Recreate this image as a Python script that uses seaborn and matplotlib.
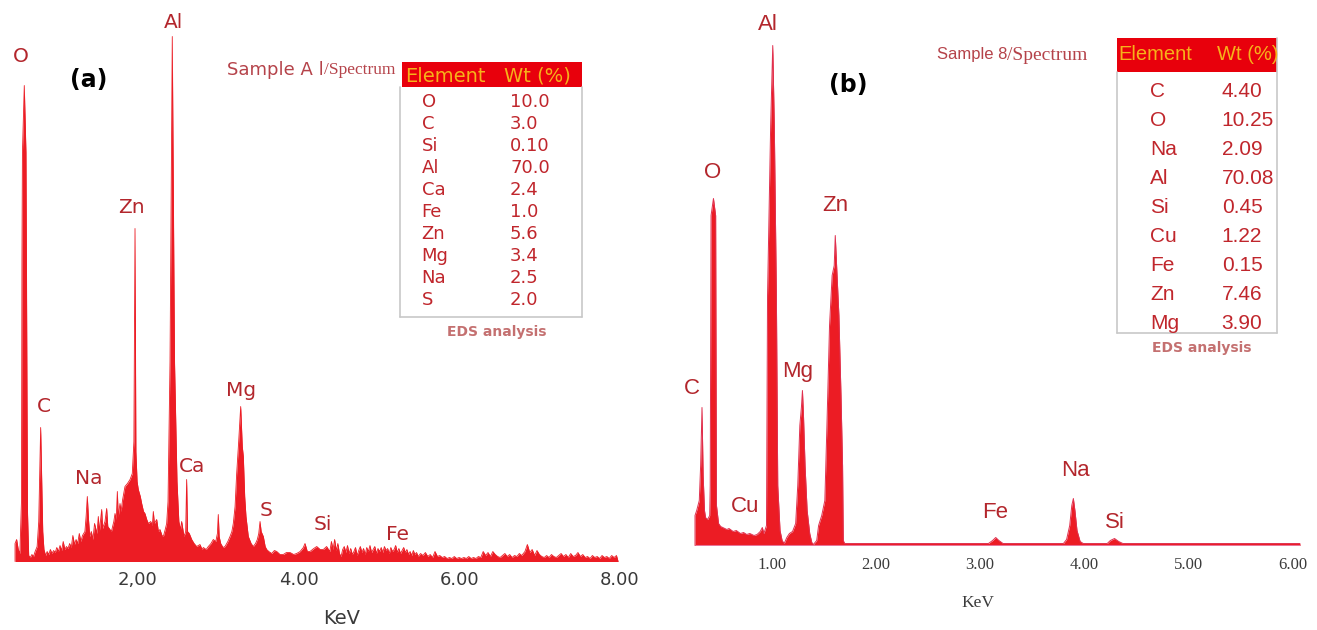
import matplotlib
matplotlib.use("Agg")
import matplotlib.pyplot as plt
import seaborn as sns
from matplotlib.patches import Rectangle
from matplotlib.lines import Line2D

# ---------------- data ----------------
# Panel (a): spectrum outline, (energy keV, intensity a.u.)
a_points = [
    (0.47, 0), (0.47, 18), (0.49, 22), (0.51, 12), (0.53, 8), (0.55, 60),
    (0.556, 300), (0.562, 409), (0.585, 476), (0.606, 409), (0.612, 300), (0.625, 50), (0.64, 6),
    (0.66, 4), (0.68, 7), (0.70, 5), (0.72, 10), (0.745, 15),
    (0.765, 40), (0.78, 100), (0.789, 134), (0.80, 90), (0.815, 30), (0.83, 12),
    (0.85, 6), (0.87, 10), (0.89, 7), (0.91, 12), (0.93, 8), (0.95, 11), (0.97, 9), (0.99, 14),
    (1.01, 10), (1.03, 16), (1.05, 11), (1.07, 20), (1.09, 12), (1.11, 15), (1.13, 13), (1.15, 18),
    (1.17, 14), (1.19, 26), (1.21, 17), (1.23, 22), (1.25, 18), (1.27, 28), (1.29, 20), (1.31, 26),
    (1.34, 30), (1.355, 45), (1.37, 65), (1.385, 42), (1.40, 25),
    (1.42, 30), (1.44, 22), (1.46, 38), (1.49, 28), (1.507, 45), (1.52, 30), (1.549, 52), (1.56, 33),
    (1.59, 40), (1.611, 53), (1.625, 35), (1.653, 32), (1.67, 30), (1.70, 40), (1.715, 48), (1.73, 42),
    (1.744, 70), (1.755, 45), (1.777, 58), (1.79, 50),
    (1.81, 62), (1.839, 75), (1.87, 78), (1.902, 82), (1.93, 88), (1.95, 120), (1.964, 333), (1.975, 110),
    (1.99, 80), (2.005, 72), (2.03, 65), (2.047, 58), (2.07, 50), (2.088, 48), (2.11, 42), (2.13, 38),
    (2.16, 40), (2.18, 36), (2.192, 50), (2.205, 38), (2.234, 42), (2.255, 30), (2.275, 32), (2.30, 26),
    (2.317, 25), (2.34, 32), (2.358, 38),
    (2.375, 60), (2.40, 200), (2.428, 525), (2.456, 200), (2.487, 80), (2.51, 40),
    (2.53, 32), (2.545, 40), (2.574, 25), (2.595, 30), (2.607, 82), (2.618, 30), (2.64, 28), (2.67, 22),
    (2.70, 18), (2.732, 15), (2.773, 17), (2.80, 12), (2.815, 14), (2.85, 12), (2.877, 15), (2.91, 18),
    (2.939, 22), (2.97, 20), (2.99, 28), (3.001, 47), (3.012, 25), (3.031, 18), (3.06, 14), (3.085, 15),
    (3.12, 20), (3.147, 25), (3.17, 30), (3.188, 38), (3.21, 55), (3.23, 88), (3.255, 120), (3.28, 155),
    (3.30, 115), (3.313, 105), (3.33, 65), (3.346, 45), (3.375, 25), (3.41, 18), (3.437, 15), (3.465, 18),
    (3.487, 22), (3.505, 28), (3.521, 40), (3.535, 30), (3.562, 25), (3.585, 15), (3.604, 12), (3.63, 10),
    (3.666, 8), (3.70, 11), (3.729, 10), (3.77, 7), (3.811, 7), (3.85, 9), (3.894, 9), (3.94, 7),
    (3.977, 8), (4.02, 10), (4.06, 14), (4.081, 18), (4.11, 10), (4.143, 10), (4.19, 13), (4.227, 15),
    (4.27, 12), (4.309, 12), (4.35, 15),
    (4.39, 10), (4.41, 20), (4.43, 12), (4.45, 22), (4.47, 11), (4.49, 18), (4.51, 8), (4.53, 5),
    (4.55, 12), (4.57, 15), (4.59, 9), (4.61, 16), (4.63, 8), (4.65, 13), (4.67, 7), (4.69, 10),
    (4.71, 14), (4.73, 6), (4.75, 11), (4.77, 15), (4.79, 9), (4.81, 13), (4.83, 7), (4.85, 14),
    (4.87, 10), (4.89, 16), (4.91, 9), (4.93, 12), (4.95, 15), (4.97, 8), (4.99, 13), (5.01, 10),
    (5.03, 14), (5.05, 9), (5.07, 15), (5.09, 11), (5.11, 13), (5.13, 8), (5.15, 14), (5.17, 10),
    (5.19, 12), (5.21, 16), (5.23, 9), (5.25, 13), (5.27, 8), (5.29, 11), (5.31, 14), (5.33, 9),
    (5.35, 12), (5.37, 7), (5.39, 10), (5.41, 6), (5.43, 11), (5.45, 7), (5.47, 9), (5.49, 5),
    (5.52, 8), (5.55, 6), (5.58, 9), (5.61, 5), (5.64, 7), (5.67, 4), (5.70, 10), (5.73, 5),
    (5.76, 6), (5.79, 4), (5.82, 5), (5.85, 3), (5.88, 4), (5.91, 3), (5.94, 5), (5.97, 3),
    (6.00, 4), (6.03, 3), (6.06, 4), (6.09, 3), (6.12, 5), (6.15, 3), (6.18, 4), (6.21, 3),
    (6.24, 5), (6.27, 4), (6.30, 10), (6.33, 6), (6.36, 9), (6.39, 5), (6.42, 10), (6.45, 7),
    (6.48, 5), (6.51, 4), (6.54, 6), (6.57, 8), (6.60, 5), (6.63, 7), (6.66, 4), (6.69, 6),
    (6.72, 5), (6.75, 8), (6.78, 6), (6.82, 10), (6.85, 17), (6.88, 9), (6.91, 12), (6.94, 6),
    (6.97, 11), (7.00, 7), (7.03, 5), (7.06, 4), (7.09, 6), (7.12, 4), (7.15, 7), (7.18, 5),
    (7.21, 4), (7.24, 6), (7.27, 8), (7.30, 5), (7.33, 7), (7.36, 4), (7.39, 8), (7.42, 5),
    (7.45, 6), (7.48, 9), (7.51, 5), (7.54, 7), (7.57, 4), (7.60, 5), (7.63, 3), (7.66, 6),
    (7.69, 4), (7.72, 5), (7.75, 3), (7.78, 6), (7.81, 4), (7.84, 5), (7.87, 3), (7.90, 6),
    (7.93, 4), (7.96, 6), (7.98, 0),
]
a_kev = [p[0] for p in a_points]
a_counts = [p[1] for p in a_points]

# Panel (b): spectrum outline, (energy keV, intensity a.u.)
b_points = [
    (0.264, 0), (0.264, 30), (0.28, 35), (0.305, 45), (0.318, 80), (0.331, 138), (0.342, 70),
    (0.355, 35), (0.365, 28), (0.385, 26), (0.405, 30),
    (0.41, 60), (0.418, 330), (0.441, 347), (0.462, 330), (0.47, 40),
    (0.49, 22), (0.51, 19), (0.53, 18), (0.55, 17), (0.57, 16), (0.59, 17), (0.63, 14), (0.66, 15),
    (0.70, 12), (0.73, 13), (0.76, 11), (0.79, 12), (0.83, 10), (0.86, 11), (0.89, 14), (0.91, 18),
    (0.925, 12), (0.95, 20),
    (0.96, 250), (0.99, 420), (1.01, 500), (1.025, 420), (1.045, 250), (1.058, 60), (1.08, 15),
    (1.10, 5), (1.12, 2),
    (1.145, 8), (1.17, 12), (1.20, 14), (1.23, 22), (1.25, 60), (1.27, 120), (1.285, 138), (1.295, 155),
    (1.305, 130), (1.32, 80), (1.34, 35), (1.365, 12), (1.385, 3), (1.40, 1),
    (1.432, 5), (1.45, 20), (1.48, 30), (1.51, 45), (1.53, 120), (1.555, 220), (1.58, 270), (1.60, 280),
    (1.61, 310), (1.625, 275), (1.645, 230), (1.665, 150), (1.68, 80), (1.687, 5), (1.70, 2),
    (3.08, 2), (3.12, 5), (3.15, 8), (3.18, 5), (3.22, 2),
    (3.80, 2), (3.83, 6), (3.86, 20), (3.88, 40), (3.895, 47), (3.91, 35), (3.93, 15), (3.96, 4), (3.99, 2),
    (4.22, 2), (4.25, 5), (4.29, 7), (4.33, 4), (4.37, 2),
    (6.07, 2),
]
b_kev = [p[0] for p in b_points]
b_counts = [p[1] for p in b_points]

a_tick_values = [2, 4, 6, 8]
a_tick_labels = ["2,00", "4.00", "6.00", "8.00"]
b_tick_values = [1, 2, 3, 4, 5, 6]
b_tick_labels = ["1.00", "2.00", "3.00", "4.00", "5.00", "6.00"]

a_peak_labels = ["O", "Al", "Zn", "C", "Na", "Ca", "Mg", "S", "Si", "Fe"]
b_peak_labels = ["Al", "O", "Zn", "Mg", "C", "Cu", "Fe", "Na", "Si"]

a_table_elements = ["O", "C", "Si", "Al", "Ca", "Fe", "Zn", "Mg", "Na", "S"]
a_table_wt = ["10.0", "3.0", "0.10", "70.0", "2.4", "1.0", "5.6", "3.4", "2.5", "2.0"]
b_table_elements = ["C", "O", "Na", "Al", "Si", "Cu", "Fe", "Zn", "Mg"]
b_table_wt = ["4.40", "10.25", "2.09", "70.08", "0.45", "1.22", "0.15", "7.46", "3.90"]

# ---------------- layout / style ----------------
W, H = 1317, 630
RED = "#ec1c24"
LABEL = "#b3262c"
TABLE_TXT = "#c0262c"
HEADER_RED = "#e8000c"
HEADER_TXT = "#f6b21a"
TICK = "#3a3a3a"
SAMPLE = "#b5434a"

sns.set_theme(style="white")
plt.rcParams["font.family"] = ["DejaVu Sans"]

fig = plt.figure(figsize=(W / 100, H / 100), dpi=100)
fig.patch.set_facecolor("white")


def fx(px):
    return px / W


def fy(py):
    return 1 - py / H


def ftext(px, py, s, **kw):
    kw.setdefault("ha", "center")
    kw.setdefault("va", "center")
    fig.text(fx(px), fy(py), s, **kw)


# ---------------- panel (a) ----------------
a_base = 561.5
ax_a = fig.add_axes([0, fy(a_base), fx(650), a_base / H])
ax_a.fill_between(a_kev, 0, a_counts, color=RED, lw=0)
sns.lineplot(x=a_kev, y=a_counts, ax=ax_a, color=RED, lw=0.6, estimator=None, sort=False)
ax_a.set_xlim((0 + 22.7) / 80.3, (650 + 22.7) / 80.3)
ax_a.set_ylim(0, a_base)
ax_a.set_xticks(a_tick_values)
ax_a.set_xticklabels(a_tick_labels, fontsize=13, color=TICK, family=["DejaVu Sans"])
ax_a.tick_params(axis="x", length=0, pad=7)
ax_a.set_yticks([])
ax_a.set_xlabel("")
ax_a.set_ylabel("")
ax_a.patch.set_alpha(0)
sns.despine(ax=ax_a, left=True, bottom=True)

a_label_pos = [(20.8, 56.5), (173, 22), (131, 208), (43.7, 406), (88.8, 478.6),
               (192.5, 466.5), (240.8, 391), (265.8, 511), (323, 525), (398, 535)]
for name, (px, py) in zip(a_peak_labels, a_label_pos):
    ftext(px, py, name, fontsize=14.5, color=LABEL)

ftext(341.7, 618, "KeV", fontsize=14, color=TICK)
ftext(88.3, 80, "(a)", fontsize=17, fontweight="bold", color="black")

# sample title
ftext(226.7, 70, "Sample A l", ha="left", fontsize=13, color=SAMPLE)
ftext(324, 70, "/Spectrum", ha="left", fontsize=12.5, color=SAMPLE, family=["Liberation Serif"])

# table (a)
fig.patches.append(Rectangle((fx(401.7), fy(86.7)), fx(581.7) - fx(401.7), fy(61.7) - fy(86.7),
                             transform=fig.transFigure, facecolor=HEADER_RED, edgecolor="none"))
ftext(445, 76.5, "Element", fontsize=14, color=HEADER_TXT)
ftext(537, 76.5, "Wt (%)", fontsize=14, color=HEADER_TXT)
for i, (el, wt) in enumerate(zip(a_table_elements, a_table_wt)):
    y = 101.7 + 22.0 * i
    ftext(421.7, y, el, ha="left", fontsize=13, color=TABLE_TXT)
    ftext(510, y, wt, ha="left", fontsize=13, color=TABLE_TXT)
for (x0, y0, x1, y1) in [(400.5, 86.7, 400.5, 316.7), (581.7, 86.7, 581.7, 316.7), (400.5, 316.7, 581.7, 316.7)]:
    fig.lines.append(Line2D([fx(x0), fx(x1)], [fy(y0), fy(y1)], transform=fig.transFigure,
                            color="#c8c8c8", lw=1.2))
ftext(497, 331.7, "EDS analysis", fontsize=10, fontweight="bold", color="#c47070")

# ---------------- panel (b) ----------------
b_base = 545.5
ax_b = fig.add_axes([fx(660), fy(b_base), fx(657), b_base / H])
ax_b.hlines(0, b_kev[0], b_kev[-1], color="#e8759a", lw=2.2)
ax_b.fill_between(b_kev, 0, b_counts, color=RED, lw=0)
sns.lineplot(x=b_kev, y=b_counts, ax=ax_b, color="#e0304f", lw=0.7, estimator=None, sort=False)
ax_b.set_xlim((660 - 667.5) / 104.2, (1317 - 667.5) / 104.2)
ax_b.set_ylim(0, b_base)
ax_b.set_xticks(b_tick_values)
ax_b.set_xticklabels(b_tick_labels, fontsize=12, color=TICK, family=["Liberation Serif"])
ax_b.tick_params(axis="x", length=0, pad=8)
ax_b.set_yticks([])
ax_b.set_xlabel("")
ax_b.set_ylabel("")
ax_b.patch.set_alpha(0)
sns.despine(ax=ax_b, left=True, bottom=True)

b_label_pos = [(768, 25), (713, 173), (835, 206), (798, 372), (691.7, 388),
               (745, 507), (995, 512), (1075, 470), (1115, 522)]
for name, (px, py) in zip(b_peak_labels, b_label_pos):
    ftext(px, py, name, fontsize=16, color=LABEL, family=["Liberation Sans"])

ftext(978, 603, "KeV", fontsize=12.5, color=TICK, family=["Liberation Serif"])
ftext(848.3, 85, "(b)", fontsize=17, fontweight="bold", color="black")

ftext(936.7, 55, "Sample 8", ha="left", fontsize=12, color=SAMPLE, family=["Liberation Sans"])
ftext(1007, 55, "/Spectrum", ha="left", fontsize=14, color=SAMPLE, family=["Liberation Serif"])

tfam = ["Liberation Sans"]
fig.patches.append(Rectangle((fx(1116.7), fy(71.7)), fx(1276.7) - fx(1116.7), fy(38.3) - fy(71.7),
                             transform=fig.transFigure, facecolor=HEADER_RED, edgecolor="none"))
ftext(1155, 55, "Element", fontsize=14.5, color=HEADER_TXT, family=tfam)
ftext(1248, 55, "Wt (%)", fontsize=14.5, color=HEADER_TXT, family=tfam)
for i, (el, wt) in enumerate(zip(b_table_elements, b_table_wt)):
    y = 91.7 + 28.95 * i
    ftext(1150, y, el, ha="left", fontsize=15, color=TABLE_TXT, family=tfam)
    ftext(1221.7, y, wt, ha="left", fontsize=15, color=TABLE_TXT, family=tfam)
for (x0, y0, x1, y1) in [(1116.7, 71.7, 1116.7, 333), (1277, 38, 1277, 333), (1116.7, 333, 1277, 333)]:
    fig.lines.append(Line2D([fx(x0), fx(x1)], [fy(y0), fy(y1)], transform=fig.transFigure,
                            color="#c8c8c8", lw=1.2))
ftext(1201.7, 348.3, "EDS analysis", fontsize=10, fontweight="bold", color="#c47070")

fig.savefig("out.png", dpi=100, facecolor="white")
